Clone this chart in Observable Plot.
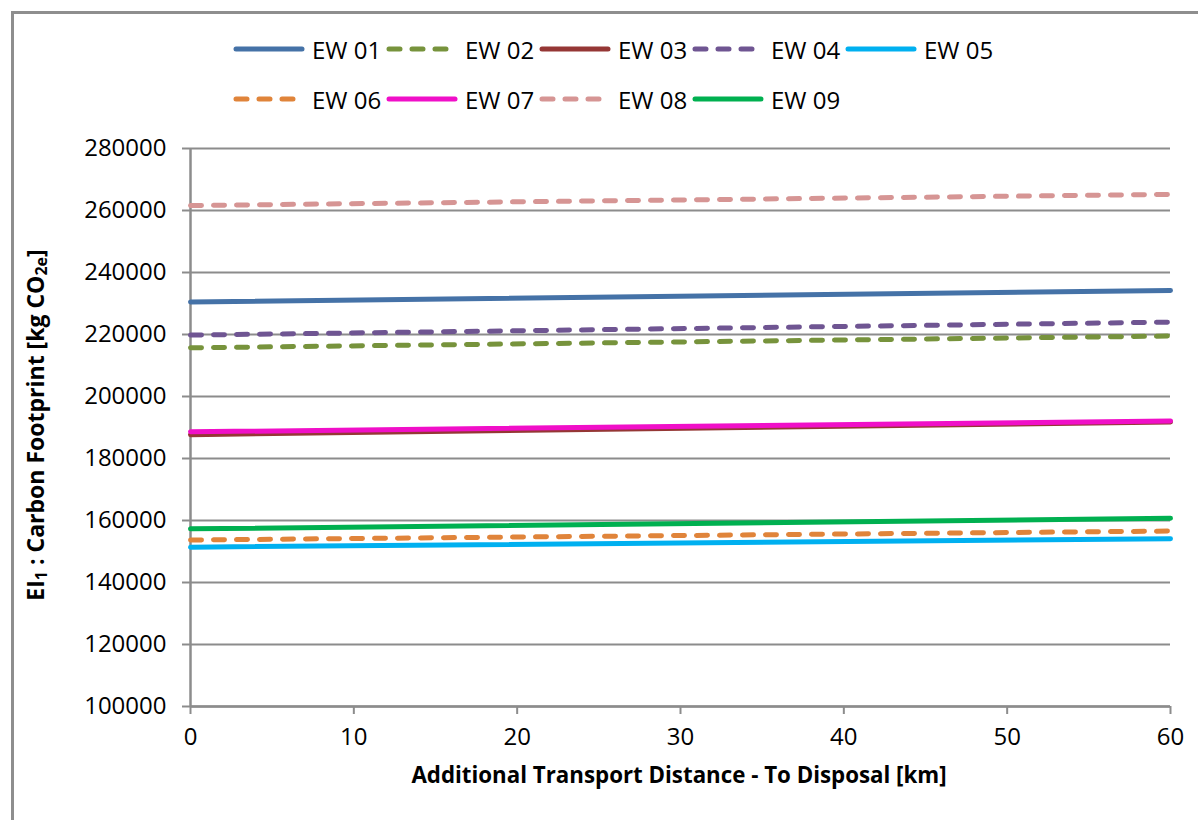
<!DOCTYPE html>
<html>
<head>
<meta charset="utf-8">
<script src="https://cdn.jsdelivr.net/npm/d3@7"></script>
<script src="https://cdn.jsdelivr.net/npm/@observablehq/plot@0.6"></script>
<style>
  html, body { margin: 0; padding: 0; background: #fff; }
  body { width: 1198px; height: 820px; position: relative; overflow: hidden; font-family: "Open Sans", sans-serif; }
  #frame { position: absolute; left: 11px; top: 11px; width: 1300px; height: 900px; border-left: 3px solid #8e8e8e; border-top: 3px solid #8e8e8e; }
  #legend { position: absolute; left: 0; top: 0; width: 1198px; height: 130px; }
  #chart { position: absolute; left: 0; top: 130px; }
  .item { position: absolute; display: flex; align-items: center; font-size: 24px; color: #000; white-space: nowrap; }
  .item svg { display: block; margin-right: 7px; }
</style>
</head>
<body>
<div id="frame"></div>
<div id="legend"></div>
<div id="chart"></div>
<script>
// ---- data ----
const distances = [0, 60];
const seriesNames = ["EW 01", "EW 02", "EW 03", "EW 04", "EW 05", "EW 06", "EW 07", "EW 08", "EW 09"];
const ew01 = [230500, 234200];
const ew02 = [215700, 219500];
const ew03 = [187700, 191800];
const ew04 = [219800, 224000];
const ew05 = [151400, 154100];
const ew06 = [153700, 156600];
const ew07 = [188600, 192100];
const ew08 = [261600, 265200];
const ew09 = [157300, 160700];
const seriesValues = [ew01, ew02, ew03, ew04, ew05, ew06, ew07, ew08, ew09];
const seriesColors = ["#4572a7", "#77933c", "#953735", "#6f5592", "#00b0f0", "#e0843a", "#f00fc8", "#d69594", "#00b050"];
const seriesDashed = [false, true, false, true, false, true, false, true, false];
const yTicks = [100000, 120000, 140000, 160000, 180000, 200000, 220000, 240000, 260000, 280000];
const xTicks = [0, 10, 20, 30, 40, 50, 60];

const rows = [];
seriesNames.forEach((name, i) => {
  distances.forEach((d, j) => rows.push({series: name, x: d, y: seriesValues[i][j], idx: i}));
});

// ---- legend ----
const legend = document.getElementById("legend");
const legendX0 = 233, legendPitch = 153, legendRowY = [49, 99];
seriesNames.forEach((name, i) => {
  const row = Math.floor(i / 5), col = i % 5;
  const div = document.createElement("div");
  div.className = "item";
  div.style.left = (legendX0 + col * legendPitch) + "px";
  div.style.top = (legendRowY[row] - 17) + "px";
  div.style.height = "34px";
  const w = 72;
  const dash = seriesDashed[i] ? `stroke-dasharray="11,12"` : "";
  div.innerHTML = `<svg width="${w}" height="10"><line x1="3" x2="${w - 3}" y1="5" y2="5" stroke="${seriesColors[i]}" stroke-width="5" stroke-linecap="round" ${dash}/></svg><span>${name}</span>`;
  legend.appendChild(div);
});

// ---- chart ----
const grey = "#8c8c8c";
const plot = Plot.plot({
  width: 1198,
  height: 690,
  marginLeft: 190,
  marginRight: 28,
  marginTop: 18,
  marginBottom: 114,
  style: {fontFamily: "Open Sans, sans-serif", fontSize: "24px", color: "#000", background: "transparent"},
  x: {domain: [0, 60], ticks: xTicks},
  y: {domain: [100000, 280000], ticks: yTicks},
  marks: [
    Plot.gridY(yTicks, {stroke: grey, strokeOpacity: 1, strokeWidth: 2}),
    Plot.ruleX([0], {stroke: grey, strokeWidth: 2.5}),
    Plot.ruleY([100000], {stroke: grey, strokeWidth: 2.5}),
    Plot.axisY(yTicks, {tickSize: 8, tickPadding: 16, stroke: grey, strokeWidth: 2, tickFormat: d => String(d), label: null, fill: "#000"}),
    Plot.axisX(xTicks, {tickSize: 8, tickPadding: 13, stroke: grey, strokeWidth: 2, tickFormat: d => String(d), label: null, fill: "#000"}),
    ...seriesNames.map((name, i) => Plot.line(rows.filter(r => r.series === name), {
      x: "x", y: "y", stroke: seriesColors[i], strokeWidth: 5,
      strokeLinecap: "round",
      strokeDasharray: seriesDashed[i] ? "11,12" : null
    }))
  ]
});
document.getElementById("chart").appendChild(plot);

// axis titles with subscripts
const svg = d3.select(plot);
svg.append("text")
  .attr("x", 679).attr("y", 777 - 130)
  .attr("text-anchor", "middle").attr("dominant-baseline", "middle")
  .attr("font-weight", "bold").attr("font-size", 22.3).attr("fill", "#000")
  .text("Additional Transport Distance - To Disposal [km]");

const yt = svg.append("text")
  .attr("transform", `translate(38,${425 - 130}) rotate(-90)`)
  .attr("text-anchor", "middle").attr("dominant-baseline", "middle")
  .attr("font-weight", "bold").attr("font-size", 23).attr("fill", "#000");
yt.append("tspan").text("EI");
yt.append("tspan").attr("font-size", 16).attr("dy", 5).text("1");
yt.append("tspan").attr("dy", -5).text(" : Carbon Footprint [kg CO");
yt.append("tspan").attr("font-size", 16).attr("dy", 5).text("2e");
yt.append("tspan").attr("dy", -5).text("]");
</script>
</body>
</html>
